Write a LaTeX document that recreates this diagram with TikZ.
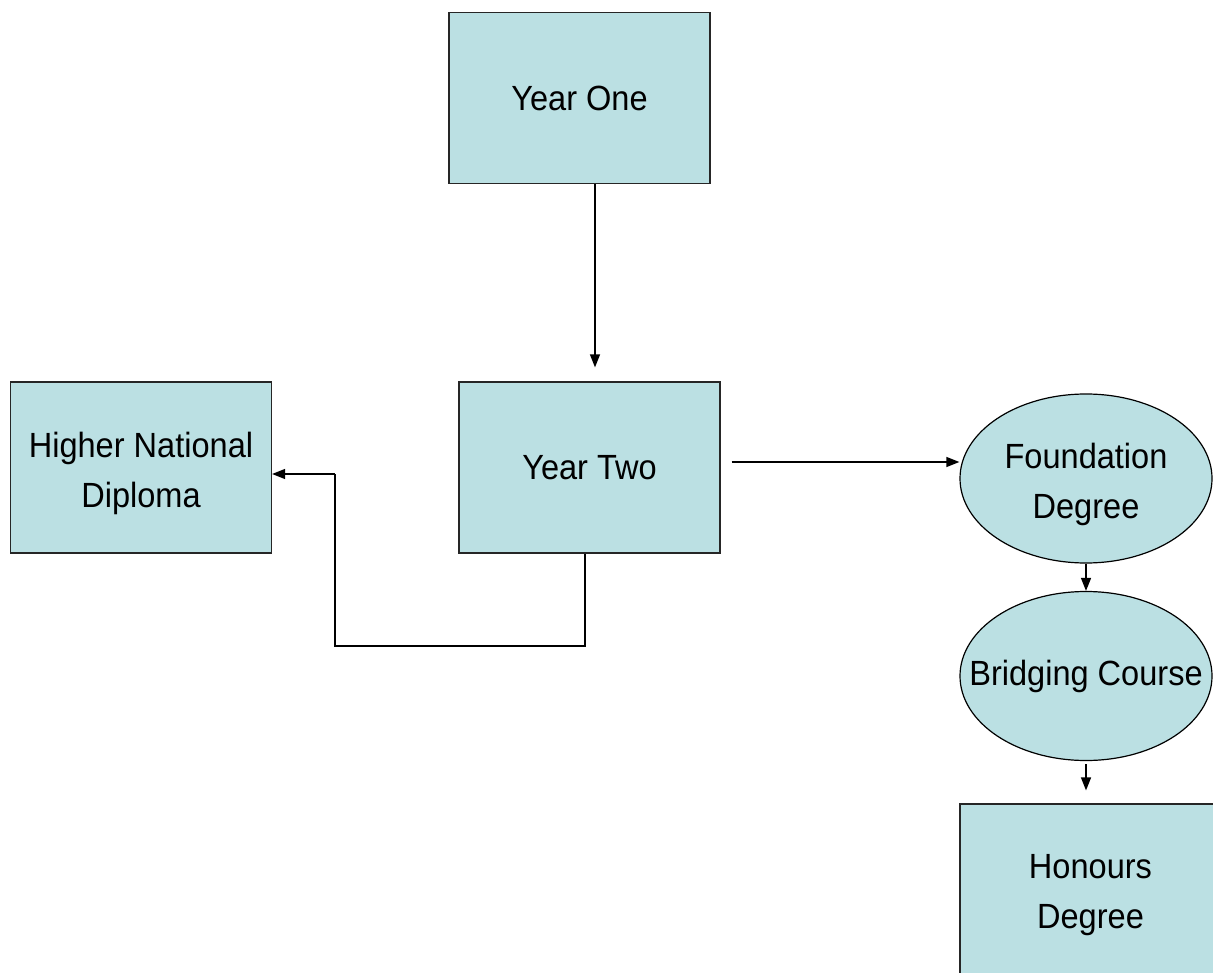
\documentclass[tikz,border=0pt]{standalone}
\usepackage{fontspec}
\setmainfont{Liberation Sans}[FakeStretch=0.93]
\usetikzlibrary{shapes.geometric,arrows.meta}
\definecolor{boxfill}{RGB}{187,224,227}
\begin{document}
\begin{tikzpicture}[x=1pt,y=-1pt,
  lbl/.style={font=\fontsize{35}{50}\selectfont,align=center,inner sep=0pt},
  lbltwo/.style={lbl,yshift=-6pt},
  rbox/.style={draw=black!85,line width=1.2pt,fill=boxfill,rectangle,minimum width=261pt,minimum height=171pt,inner sep=0pt},
  ebox/.style={draw=black,line width=1.2pt,fill=boxfill,ellipse,minimum width=252pt,minimum height=169pt,inner sep=0pt},
  arr/.style={line width=1.3pt,-{Triangle[length=13pt,width=10pt]}},
  conn/.style={line width=1.2pt}]
\useasboundingbox (0,0) rectangle (1213,973);
\node[rbox,label={[lbl]center:Year One}] (y1) at (579.5,98) {};
\node[rbox,label={[lbl]center:Year Two}] (y2) at (589.5,467.5) {};
\node[rbox,label={[lbltwo]center:{Higher National\\Diploma}}] (hnd) at (141,467.5) {};
\node[ebox,label={[lbltwo]center:{Foundation\\Degree}}] (fd) at (1086,478.5) {};
\node[ebox,label={[lbl]center:Bridging Course}] (bc) at (1086,676) {};
\node[rbox,label={[lbltwo]center:{Honours\\Degree}}] (hd) at (1090.5,889.5) {};
\coordinate (s1) at ([xshift=15.5pt]y1.south);
\coordinate (e1) at ([xshift=5.5pt]y2.north);
\draw[arr,shorten >=14pt] (s1) -- (e1);
\coordinate (s2) at ([yshift=5.5pt]y2.east);
\draw[arr,shorten <=11pt] (s2) -- (s2 -| fd.west);
\coordinate (s3) at ([xshift=-4.5pt]y2.south);
\coordinate (c3a) at (585,646);
\coordinate (c3b) at (335,646);
\coordinate (c3c) at (335,474);
\draw[conn] (s3) -- (c3a) -- (c3b) -- (c3c);
\draw[arr] (c3c) -- (c3c -| hnd.east);
\draw[arr] (fd.south) -- (bc.north);
\draw[arr,shorten <=3pt,shorten >=13pt] (bc.south) -- (bc.south |- hd.north);
\end{tikzpicture}
\end{document}
